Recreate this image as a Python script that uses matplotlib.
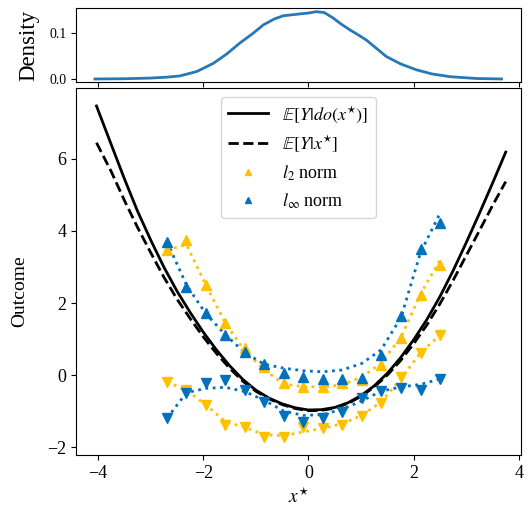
import numpy as np
import matplotlib
matplotlib.use("Agg")
import matplotlib.pyplot as plt

plt.rcParams['font.family'] = 'Liberation Serif'
plt.rcParams['mathtext.fontset'] = 'stix'

# density of x* (top panel)
dens_x = [-4.06, -3.5, -3.0, -2.69, -2.45, -2.13, -1.81, -1.55, -1.31, -1.05, -0.86, -0.65, -0.48, -0.17, 0.0, 0.15, 0.3,
          0.47, 0.62, 0.79, 0.95, 1.10, 1.28, 1.48, 1.75, 2.05, 2.35, 2.69, 3.2, 3.67]
dens_y = [0.0, 0.0005, 0.002, 0.004, 0.0066, 0.016, 0.034, 0.055, 0.078, 0.100, 0.118, 0.131, 0.138, 0.142, 0.144, 0.147, 0.145,
          0.133, 0.120, 0.107, 0.096, 0.085, 0.068, 0.049, 0.033, 0.020, 0.011, 0.005, 0.001, 0.0]

# outcome curves
curve_x = [-4.03, -3.75, -3.5, -3.25, -3.0, -2.75, -2.5, -2.25, -2.0, -1.75, -1.5, -1.25, -1.0, -0.75, -0.5, -0.25,
           0.0, 0.25, 0.5, 0.75, 1.0, 1.25, 1.5, 1.75, 2.0, 2.25, 2.5, 2.75, 3.0, 3.25, 3.5, 3.75]
y_do = [7.47, 6.40, 5.45, 4.55, 3.75, 3.00, 2.33, 1.74, 1.19, 0.70, 0.26, -0.12, -0.42, -0.64, -0.80, -0.91,
        -0.97, -0.96, -0.90, -0.77, -0.57, -0.30, 0.05, 0.48, 0.98, 1.54, 2.18, 2.90, 3.68, 4.49, 5.33, 6.19]
y_obs = [6.45, 5.65, 4.85, 4.10, 3.40, 2.72, 2.11, 1.57, 1.06, 0.60, 0.19, -0.17, -0.45, -0.66, -0.82, -0.93,
         -0.99, -0.98, -0.92, -0.79, -0.59, -0.33, 0.00, 0.40, 0.87, 1.39, 1.98, 2.63, 3.32, 4.01, 4.71, 5.37]

# optimised points
pts_x = [-2.69, -2.32, -1.95, -1.58, -1.21, -0.84, -0.47, -0.10, 0.27, 0.64, 1.01, 1.38, 1.76, 2.13, 2.50]
l2_up = [3.47, 3.75, 2.50, 1.44, 0.74, 0.23, -0.23, -0.34, -0.34, -0.23, -0.14, 0.28, 1.02, 2.22, 3.06]
l2_down = [-0.19, -0.42, -0.83, -1.39, -1.45, -1.71, -1.73, -1.45, -1.48, -1.39, -1.14, -0.79, -0.05, 0.60, 1.11]
linf_up = [3.70, 2.45, 1.71, 1.11, 0.65, 0.32, 0.05, -0.05, -0.12, -0.12, -0.09, 0.56, 1.65, 3.49, 4.23]
linf_down = [-1.20, -0.49, -0.23, -0.14, -0.42, -0.74, -1.14, -1.30, -1.20, -1.03, -0.65, -0.45, -0.37, -0.42, -0.11]

# smoothed trend lines (dotted)
l2_up_fit = [3.47, 3.62, 2.50, 1.44, 0.66, 0.15, -0.25, -0.32, -0.33, -0.27, -0.06, 0.33, 1.05, 2.25, 3.20]
l2_down_fit = [-0.19, -0.42, -0.83, -1.30, -1.45, -1.66, -1.68, -1.58, -1.48, -1.35, -1.12, -0.75, -0.10, 0.62, 1.11]
linf_up_fit = [3.70, 2.50, 1.70, 1.12, 0.62, 0.30, 0.19, 0.12, 0.09, 0.14, 0.32, 0.70, 1.60, 3.40, 4.49]
linf_down_fit = [-1.20, -0.49, -0.37, -0.34, -0.46, -0.70, -1.00, -1.12, -1.10, -0.95, -0.72, -0.45, -0.33, -0.26, -0.11]

yellow = '#FFC000'
blue = '#0072BD'

fig = plt.figure(figsize=(5.27, 5.09), dpi=100)
ax_d = fig.add_axes([0.1442, 0.8389, 0.8444, 0.1454])
ax = fig.add_axes([0.1442, 0.1061, 0.8444, 0.7210], sharex=ax_d)

ax_d.plot(dens_x, dens_y, color='#2878b5', lw=2)
ax_d.set_ylim(-0.0066, 0.155)
ax_d.set_yticks([0.0, 0.1])
ax_d.set_yticklabels(['0.0', '0.1'], fontsize=10)
ax_d.set_ylabel('Density', fontsize=16.5)
ax_d.yaxis.set_label_coords(-0.083, 0.5)
ax_d.tick_params(axis='x', labelbottom=False)

ax.plot(curve_x, y_do, color='black', lw=2, label=r'$\mathbb{E}[Y|do(x^{\star})]$')
ax.plot(curve_x, y_obs, color='black', lw=2, ls='--', label=r'$\mathbb{E}[Y|x^{\star}]$')

ax.plot(pts_x, l2_up_fit, color=yellow, ls=':', lw=2)
ax.plot(pts_x, l2_down_fit, color=yellow, ls=':', lw=2)
ax.plot(pts_x, linf_up_fit, color=blue, ls=':', lw=2)
ax.plot(pts_x, linf_down_fit, color=blue, ls=':', lw=2)

ax.plot(pts_x, l2_up, '^', color=yellow, ms=7.5, ls='none', label=r'$l_2$ norm')
ax.plot(pts_x, l2_down, 'v', color=yellow, ms=7.5, ls='none')
ax.plot(pts_x, linf_up, '^', color=blue, ms=7.5, ls='none', label=r'$l_\infty$ norm')
ax.plot(pts_x, linf_down, 'v', color=blue, ms=7.5, ls='none')

ax.set_xlim(-4.42, 4.04)
ax.set_ylim(-2.22, 7.97)
ax.set_xticks([-4, -2, 0, 2, 4])
ax.set_yticks([-2, 0, 2, 4, 6])
ax.tick_params(labelsize=13)
ax.set_xlabel(r'$x^{\star}$', fontsize=14)
ax.set_ylabel('Outcome', fontsize=14)
ax.yaxis.set_label_coords(-0.108, 0.447)
ax.legend(loc='upper center', fontsize=13, handlelength=2.2, markerscale=0.65)

fig.savefig('out.png', dpi=100)
